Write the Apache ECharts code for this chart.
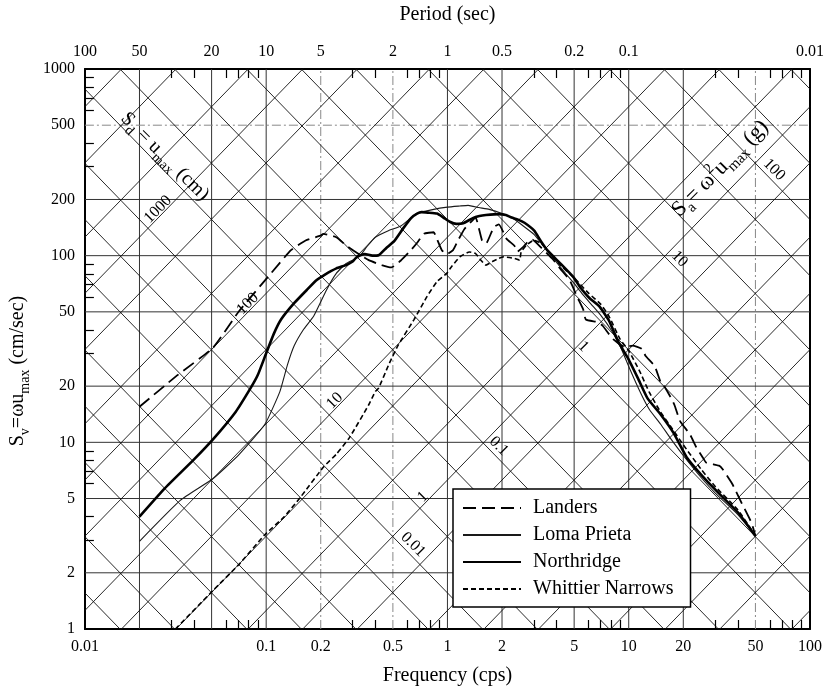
<!DOCTYPE html>
<html>
<head>
<meta charset="utf-8">
<script src="https://cdn.jsdelivr.net/npm/echarts@6/dist/echarts.min.js"></script>
<style>html,body{margin:0;padding:0;background:#fff}#c{width:828px;height:691px}</style>
</head>
<body>
<div id="c"></div>
<script>
// ---------------- data ----------------
const freqLabelValues = [0.01, 0.1, 0.2, 0.5, 1, 2, 5, 10, 20, 50, 100];
const periodLabelValues = [100, 50, 20, 10, 5, 2, 1, 0.5, 0.2, 0.1, 0.01];
const svLabelValues = [1, 2, 5, 10, 20, 50, 100, 200, 500, 1000];
const freqGridValues = [0.02, 0.05, 0.1, 0.2, 0.5, 1, 2, 5, 10, 20, 50];
const svGridValues = [2, 5, 10, 20, 50, 100, 200, 500];
const freqMinorTicks = [0.03, 0.04, 0.06, 0.07, 0.08, 0.09, 0.3, 0.4, 0.6, 0.7, 0.8, 0.9,
                        3, 4, 6, 7, 8, 9, 30, 40, 60, 70, 80, 90];
const svMinorTicks = [3, 4, 6, 7, 8, 9, 30, 40, 60, 70, 80, 90, 300, 400, 600, 700, 800, 900];

// tripartite diagonal lines: Sd (cm) and Sa (g)
const sdLineValues = [0.002, 0.005, 0.01, 0.02, 0.05, 0.1, 0.2, 0.5, 1, 2, 5, 10, 20, 50,
                      100, 200, 500, 1000, 2000, 5000, 10000];
const saLineValues = [0.0001, 0.0002, 0.0005, 0.001, 0.002, 0.005, 0.01, 0.02, 0.05, 0.1,
                      0.2, 0.5, 1, 2, 5, 10, 20, 50, 100, 200, 500];
const sdLabelValues = [1000, 100, 10, 1];
const saLabelValues = [100, 10, 1, 0.1, 0.01];

// spectra: [frequency (cps), Sv (cm/sec)]
const landers = [[0.02,15.5],[0.0324,22.9],[0.051,32.2],[0.0708,50.4],[0.1026,77.2],[0.137,107],
  [0.165,120.6],[0.199,128],[0.2066,130.9],[0.2437,125.6],[0.276,113.5],[0.332,100.4],[0.368,94.6],
  [0.434,89],[0.491,86.5],[0.556,94.6],[0.629,107],[0.684,118],[0.742,131],[0.839,133.5],[0.875,123],
  [0.931,107],[0.991,101.8],[1.074,107],[1.143,120.5],[1.241,139],[1.38,155],[1.43,160],[1.55,121],
  [1.63,116],[1.8,142],[1.92,147],[2.12,123],[2.34,113],[2.43,105],[2.61,111],[2.76,118],[2.94,122],
  [3.3,110],[3.8,96],[4.2,85],[4.72,74],[5.2,60],[5.61,51.5],[5.8,45.5],[6.8,44],[7.2,42],[8.2,35.7],
  [9.55,32.4],[10.5,33],[11.8,31.7],[12.4,29],[13.9,25.6],[15.0,21],[15.6,20.2],[17.0,17.5],[17.9,15.8],
  [19.2,13],[21.8,11],[23.6,9.4],[25.6,8.3],[26.7,7.8],[31.5,7.5],[32.9,7.2],[37.2,6.0],[42.1,4.7],
  [47.6,3.7],[50,3.15]];
const lomaPrieta = [[0.02,2.95],[0.0337,4.9],[0.051,6.4],[0.0708,8.6],[0.0984,12.5],[0.119,18.7],
  [0.131,26],[0.1427,32.9],[0.16,40],[0.183,47.5],[0.2155,65.7],[0.2437,80.4],[0.276,90.8],[0.325,98.5],
  [0.36,112],[0.4,125.6],[0.472,136],[0.556,144.8],[0.67,167],[0.84,177],[1.0,182],[1.17,184.5],
  [1.3,186],[1.49,181],[1.7,177],[2.0,168],[2.3,158],[2.6,145],[3.0,130],[3.4,112],[3.9,95],[4.5,80],
  [5.0,71],[5.5,63],[6.2,55],[7.0,48],[8.0,40],[9.0,32.5],[10.0,25.5],[11.6,18.5],[13.0,15],[15.0,12.5],
  [17.0,10.5],[20.0,8.5],[25,6.5],[30,5.35],[40,4.1],[50,3.15]];
const northridge = [[0.02,4.0],[0.0275,5.65],[0.04,8.1],[0.051,10.4],[0.068,14.6],[0.082,19.5],
  [0.09,23],[0.1,30],[0.11,38],[0.121,45.6],[0.143,55.8],[0.168,65.7],[0.19,74],[0.21,79],[0.244,85.5],
  [0.276,89],[0.3,93],[0.318,99],[0.35,102],[0.385,100],[0.417,100.5],[0.46,110],[0.51,120],[0.57,140],
  [0.63,159],[0.68,168],[0.72,171],[0.78,170],[0.875,168],[0.95,160],[1.03,152],[1.12,148],[1.22,149],
  [1.38,159],[1.5,163],[1.63,165],[1.92,167],[2.1,165],[2.26,160],[2.45,156],[2.66,150],[3.01,136],
  [3.27,120],[3.55,107],[4.19,91],[4.94,77],[5.36,68.4],[6.07,59.3],[6.87,53.6],[7.77,45],[8.78,34.4],
  [9.95,28],[11.25,22],[12.7,17.2],[15.0,14.1],[17.7,11.2],[20.9,8.3],[26.8,6.25],[32.9,5.1],
  [40.4,4.17],[50,3.15]];
const whittierNarrows = [[0.0316,1.0],[0.051,1.61],[0.0708,2.22],[0.0984,3.2],[0.126,4.0],[0.155,5.1],
  [0.2066,7.35],[0.244,8.65],[0.288,10.6],[0.368,15.9],[0.4,18.7],[0.417,19.5],[0.472,25.8],[0.491,28],
  [0.533,33],[0.655,45.6],[0.772,60.5],[0.875,72.6],[0.991,80.4],[1.05,87],[1.17,98.5],[1.32,104.6],
  [1.43,102.6],[1.53,94.6],[1.63,89],[1.77,93],[1.92,96.6],[2.03,98.5],[2.34,96.6],[2.5,94.6],
  [2.55,104.6],[2.72,113.5],[3.0,121],[3.3,116],[3.7,102],[4.2,89],[5.0,76],[6.0,63],[7.0,55],
  [7.77,47.5],[8.96,35.7],[10.0,31],[11.5,24],[13,18.5],[15,14.5],[17,12.2],[20,9.7],[25,7.2],
  [30,5.8],[40,4.35],[50,3.15]];

// ---------------- layout / style ----------------
const FONT = '"Liberation Serif", "Times New Roman", Times, serif';
const TWO_PI = 2 * Math.PI;
const G = 981; // cm/s^2
const F_MIN = 0.01, F_MAX = 100, SV_MIN = 1, SV_MAX = 1000;
// frequencies along each diagonal where its value label sits
const sdLabelAnchorFreq = [0.0267, 0.0834, 0.252, 0.771];
const saLabelAnchorFreq = [58.5, 17.6, 5.18, 1.77, 0.596];
const sdTitleAt = [0.0276, 339];
const saTitleAt = [32.0, 293];
const lightFreq = [0.2, 0.5, 50];
const lightSv = [500];

const fmt = v => String(+(+v).toPrecision(6));

const gridStyle = {color: '#333', width: 1};
const lightGridStyle = {color: '#888', width: 1, type: [9, 3, 2, 3]};
const diagStyle = {color: '#111', width: 0.9};

function plain(data, style, z) {
  return {type: 'line', data, symbol: 'none', silent: true, clip: true, lineStyle: style, z,
          animation: false, emphasis: {disabled: true}, tooltip: {show: false}};
}

const series = [];
freqGridValues.forEach(f => series.push(plain([[f, SV_MIN], [f, SV_MAX]],
  lightFreq.includes(f) ? lightGridStyle : gridStyle, 1)));
svGridValues.forEach(v => series.push(plain([[F_MIN, v], [F_MAX, v]],
  lightSv.includes(v) ? lightGridStyle : gridStyle, 1)));
sdLineValues.forEach(sd => series.push(plain(
  [[F_MIN, TWO_PI * F_MIN * sd], [F_MAX, TWO_PI * F_MAX * sd]], diagStyle, 1)));
saLineValues.forEach(sa => series.push(plain(
  [[F_MIN, sa * G / (TWO_PI * F_MIN)], [F_MAX, sa * G / (TWO_PI * F_MAX)]], diagStyle, 1)));

const textBase = {position: 'inside', align: 'center', verticalAlign: 'middle',
  color: '#000', textBorderWidth: 0, textBorderColor: 'transparent', opacity: 1};
// diagonal value labels
series.push({
  type: 'scatter', symbolSize: 0, silent: true, z: 6, animation: false,
  itemStyle: {color: '#000'},
  data: sdLabelValues.map((sd, i) => ({name: fmt(sd),
    value: [sdLabelAnchorFreq[i], TWO_PI * sdLabelAnchorFreq[i] * sd]})),
  label: Object.assign({show: true, formatter: p => p.name, rotate: 45, offset: [0, -6],
          fontFamily: FONT, fontSize: 16}, textBase)
});
series.push({
  type: 'scatter', symbolSize: 0, silent: true, z: 6, animation: false,
  itemStyle: {color: '#000'},
  data: saLabelValues.map((sa, i) => ({name: fmt(sa),
    value: [saLabelAnchorFreq[i], sa * G / (TWO_PI * saLabelAnchorFreq[i])]})),
  label: Object.assign({show: true, formatter: p => p.name, rotate: -45, offset: [0, -9],
          fontFamily: FONT, fontSize: 16}, textBase)
});
const titleRich = {
  a: {fontFamily: FONT, fontSize: 20, color: '#000', lineHeight: 28},
  b: {fontFamily: FONT, fontSize: 14, color: '#000', lineHeight: 14, verticalAlign: 'bottom'},
  c: {fontFamily: FONT, fontSize: 14, color: '#000', lineHeight: 14, verticalAlign: 'top'}
};
const bigTitleRich = {
  a: {fontFamily: FONT, fontSize: 22, color: '#000', lineHeight: 30},
  b: {fontFamily: FONT, fontSize: 15, color: '#000', lineHeight: 15, verticalAlign: 'bottom'},
  c: {fontFamily: FONT, fontSize: 15, color: '#000', lineHeight: 15, verticalAlign: 'top'}
};
series.push({
  type: 'scatter', symbolSize: 0, silent: true, z: 6, animation: false,
  itemStyle: {color: '#000'},
  data: [{value: sdTitleAt, name: 'sd'}],
  label: Object.assign({show: true, rotate: -45,
          formatter: '{a|S}{b|d}{a| = u}{b|max}{a| (cm)}', rich: titleRich}, textBase)
});
series.push({
  type: 'scatter', symbolSize: 0, silent: true, z: 6, animation: false,
  itemStyle: {color: '#000'},
  data: [{value: saTitleAt, name: 'sa'}],
  label: Object.assign({show: true, rotate: 45,
          formatter: '{a|S}{b|a}{a|= ω}{c|2}{a|u}{b|max}{a| (g)}', rich: bigTitleRich}, textBase)
});

// spectra
const curve = (name, data, style) => ({name, type: 'line', data, symbol: 'none', showSymbol: false,
  z: 4, animation: false, itemStyle: {color: '#000'},
  lineStyle: Object.assign({color: '#000'}, style), smooth: 0.15,
  emphasis: {disabled: true}});
series.push(curve('Landers', landers, {width: 1.8, type: [13, 6]}));
series.push(curve('Loma Prieta', lomaPrieta, {width: 1.1, color: '#1a1a1a'}));
series.push(curve('Northridge', northridge, {width: 2.6}));
series.push(curve('Whittier Narrows', whittierNarrows, {width: 1.6, type: [5, 3]}));

const labelStyle = {fontFamily: FONT, fontSize: 16, color: '#000'};
const nameStyle = {fontFamily: FONT, fontSize: 20, color: '#000'};
const tickStyle = {show: true, inside: true, length: 9, lineStyle: {color: '#000', width: 1.2}};

const option = {
  animation: false,
  backgroundColor: '#fff',
  textStyle: {fontFamily: FONT},
  grid: {left: 65, right: 18, top: 66, bottom: 57, show: false},
  legend: {
    data: ['Landers', 'Loma Prieta', 'Northridge', 'Whittier Narrows'],
    orient: 'vertical', left: 453, top: 489, itemWidth: 58, itemHeight: 14, itemGap: 7,
    padding: [9, 17, 8, 9], backgroundColor: '#fff', borderColor: '#000', borderWidth: 1.5,
    selectedMode: false, z: 10,
    itemStyle: {opacity: 0, borderWidth: 0},
    textStyle: {fontFamily: FONT, fontSize: 20, color: '#000', padding: [0, 0, 0, 7]}
  },
  xAxis: [
    {type: 'log', logBase: 10, min: F_MIN, max: F_MAX, position: 'bottom',
     axisLine: {show: true, onZero: false, lineStyle: {color: '#000', width: 2}},
     axisTick: Object.assign({customValues: freqMinorTicks}, tickStyle),
     axisLabel: Object.assign({customValues: freqLabelValues, formatter: v => fmt(v), margin: 10}, labelStyle),
     splitLine: {show: false}, minorSplitLine: {show: false},
     name: 'Frequency (cps)', nameLocation: 'middle', nameGap: 37, nameTextStyle: nameStyle},
    {type: 'log', logBase: 10, min: F_MIN, max: F_MAX, position: 'top',
     axisLine: {show: true, onZero: false, lineStyle: {color: '#000', width: 2}},
     axisTick: Object.assign({customValues: freqMinorTicks}, tickStyle),
     axisLabel: {show: false}, splitLine: {show: false}},
    {type: 'log', logBase: 10, min: 1 / F_MAX, max: 1 / F_MIN, inverse: true, position: 'top',
     axisLine: {show: false}, axisTick: {show: false},
     axisLabel: Object.assign({customValues: periodLabelValues, formatter: v => fmt(v), margin: 9}, labelStyle),
     splitLine: {show: false},
     name: 'Period (sec)', nameLocation: 'middle', nameGap: 44, nameTextStyle: nameStyle}
  ],
  yAxis: [
    {type: 'log', logBase: 10, min: SV_MIN, max: SV_MAX, position: 'left',
     axisLine: {show: true, onZero: false, lineStyle: {color: '#000', width: 2}},
     axisTick: Object.assign({customValues: svMinorTicks}, tickStyle),
     axisLabel: Object.assign({customValues: svLabelValues, formatter: v => fmt(v), margin: 10}, labelStyle),
     splitLine: {show: false},
     name: '{a|S}{b|v}{a|=ωu}{b|max}{a| (cm/sec)}', nameLocation: 'middle', nameGap: 28,
     nameTextStyle: {padding: [0, 44, 0, 0], rich: titleRich}},
    {type: 'log', logBase: 10, min: SV_MIN, max: SV_MAX, position: 'right',
     axisLine: {show: true, onZero: false, lineStyle: {color: '#000', width: 2}},
     axisTick: {show: false}, axisLabel: {show: false}, splitLine: {show: false}}
  ],
  series: series
};

const chart = echarts.init(document.getElementById('c'), null, {renderer: 'canvas'});
chart.setOption(option);
</script>
</body>
</html>
